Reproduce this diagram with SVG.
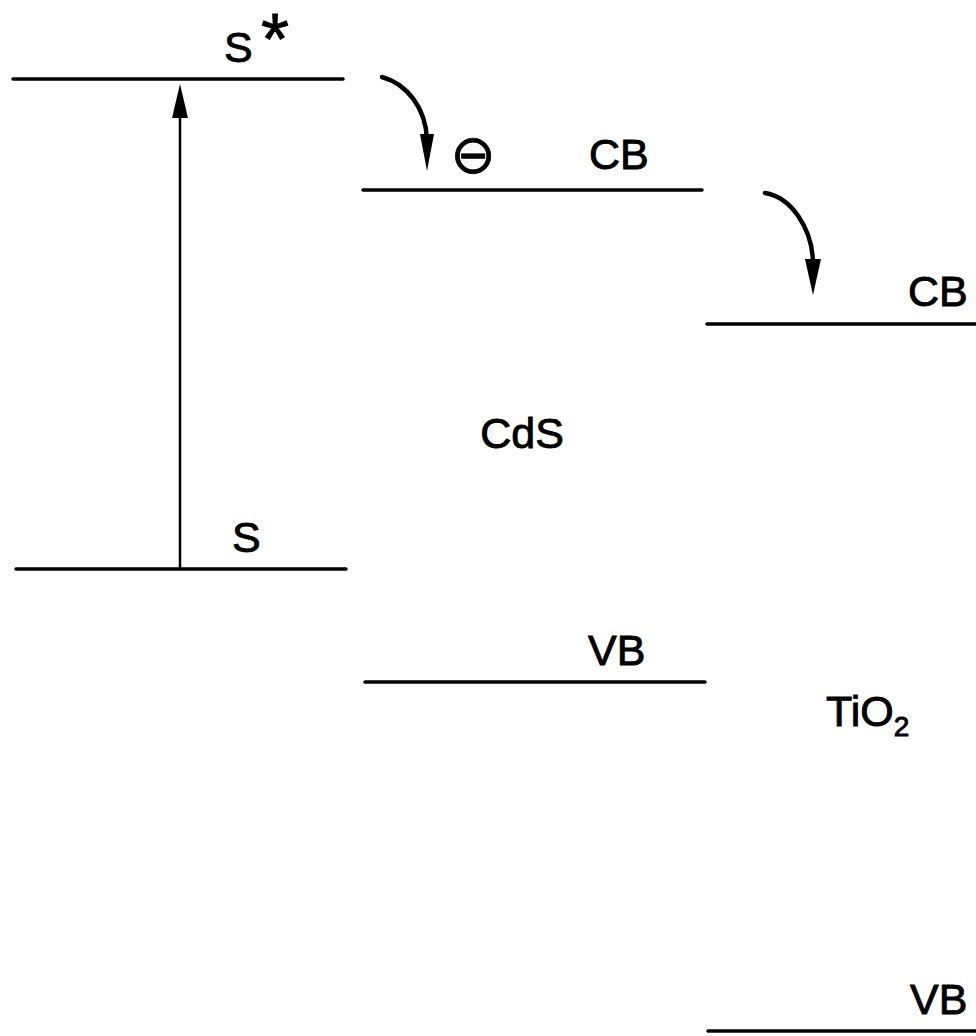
<svg xmlns="http://www.w3.org/2000/svg" width="976" height="1036" viewBox="0 0 976 1036">
<style>
.lvl{stroke:#000;stroke-width:3.5;stroke-linecap:round;fill:none}
.lbl{font-family:"Liberation Sans",Arial,sans-serif;font-size:43px;fill:#000;stroke:#000;stroke-width:0.9}
.sub{font-size:28px}
.curve{stroke:#000;stroke-width:4.5;stroke-linecap:round;fill:none}
.head{fill:#000;stroke:none}
</style>
<rect width="976" height="1036" fill="#fff"/>
<g id="level-S-star">
<line class="lvl" x1="13" y1="79" x2="343" y2="79"/>
<text class="lbl" x="224" y="62">S</text>
<text class="lbl" x="261" y="64" style="font-size:72px">*</text>
</g>
<g id="level-S">
<line class="lvl" x1="16" y1="569" x2="346" y2="569"/>
<text class="lbl" x="232" y="552">S</text>
</g>
<g id="CdS-CB">
<line class="lvl" x1="363" y1="190" x2="702" y2="190"/>
<text class="lbl" x="589" y="169">CB</text>
</g>
<g id="electron">
<text x="473" y="173" text-anchor="middle" style="font-family:'DejaVu Sans',sans-serif;font-size:54px;stroke:#000;stroke-width:0.8">⊖</text>
</g>
<g id="CdS-label">
<text class="lbl" x="522" y="448" text-anchor="middle">CdS</text>
</g>
<g id="CdS-VB">
<line class="lvl" x1="365" y1="682" x2="705" y2="682"/>
<text class="lbl" x="588" y="665">VB</text>
</g>
<g id="TiO2-CB">
<line class="lvl" x1="707" y1="324" x2="976" y2="324"/>
<text class="lbl" x="908" y="306">CB</text>
</g>
<g id="TiO2-label">
<text class="lbl" x="826" y="726">TiO<tspan class="sub" dy="10">2</tspan></text>
</g>
<g id="TiO2-VB">
<line class="lvl" x1="708" y1="1031" x2="976" y2="1031"/>
<text class="lbl" x="910" y="1014">VB</text>
</g>
<g id="connectors">
<line x1="180" y1="569" x2="180" y2="110" stroke="#000" stroke-width="2.5"/>
<polygon class="head" points="180,84 172,118 188,118"/>
<path class="curve" d="M382,77 C407,84 426,108 427,140"/>
<polygon class="head" points="427,171 420,134 434,134"/>
<path class="curve" d="M765,193 C791,197 812,228 813,262"/>
<polygon class="head" points="813,295 805,259 821,259"/>
</g>
</svg>
